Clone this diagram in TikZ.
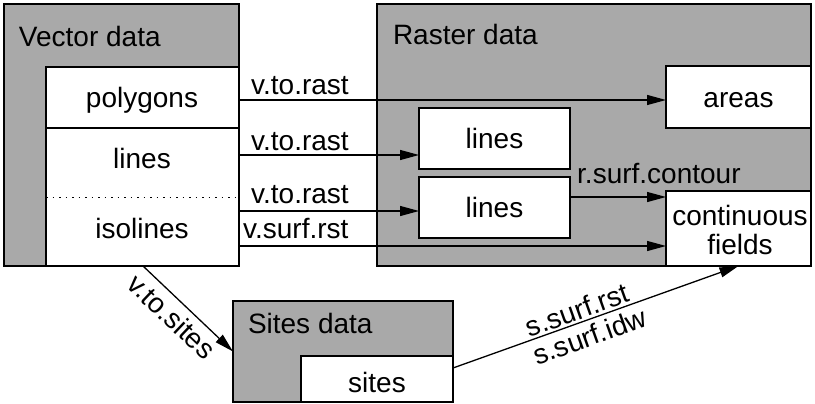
\documentclass[tikz,border=0pt]{standalone}
\usepackage{fontspec}
\setmainfont{Liberation Sans}
\usetikzlibrary{arrows.meta}
\definecolor{panelgray}{HTML}{A9A9A9}
\begin{document}
\begin{tikzpicture}[x=1pt,y=-1pt,
  font=\fontsize{28}{29}\selectfont,
  panel/.style={draw=black, line width=1.4pt, fill=panelgray, inner sep=0pt, outer sep=0pt},
  wbox/.style={draw=black, line width=1.4pt, fill=white, inner sep=0pt, outer sep=0pt},
  txt/.style={inner sep=0pt, outer sep=0pt},
  arr/.style={line width=1.3pt, -{Triangle[length=19pt,width=10pt]}},
  lbl/.style={inner sep=0pt, anchor=base west}]
\useasboundingbox (0,0) rectangle (815,404);
% panels
\node[panel, minimum width=235pt, minimum height=262pt] (vec) at (121.5,135) {};
\node[panel, minimum width=434pt, minimum height=262pt] (ras) at (594,135) {};
\node[panel, minimum width=220pt, minimum height=101pt] (sit) at (343,351.5) {};
\node[txt, anchor=base west] (vect) at (19,47) {Vector data};
\node[txt, anchor=base west] (rast) at (393,45) {Raster data};
\node[txt, anchor=base west] (sitt) at (248,333) {Sites data};
% vector inner
\node[wbox, minimum width=193pt, minimum height=199pt] (vecin) at (142.5,166.5) {};
\node[txt, minimum width=193pt, minimum height=61pt] (poly) at (142.5,97.5) {};
\node[txt, minimum width=193pt, minimum height=69pt] (lns) at (142.5,162.5) {};
\node[txt, minimum width=193pt, minimum height=69pt] (iso) at (142.5,231.5) {};
\draw[line width=1.4pt] (poly.south west) -- (poly.south east);
\draw[line width=0.9pt, dash pattern=on 1.5pt off 5pt] (lns.south west) -- (lns.south east);
\node[txt, anchor=base] (polyt) at (142,108) {polygons};
\node[txt, anchor=base] (lnst) at (142,168) {lines};
\node[txt, anchor=base] (isot) at (142,238) {isolines};
% raster inner
\node[wbox, minimum width=145pt, minimum height=62pt] (areas) at (738.5,97) {};
\node[txt, anchor=base] (areast) at (738.5,108) {areas};
\node[wbox, minimum width=151pt, minimum height=61pt] (rl1) at (494.5,138.5) {};
\node[txt, anchor=base] (rl1t) at (494.5,148) {lines};
\node[wbox, minimum width=151pt, minimum height=61pt] (rl2) at (494.5,207.5) {};
\node[txt, anchor=base] (rl2t) at (494.5,217) {lines};
\node[wbox, minimum width=145pt, minimum height=75pt] (fields) at (738.5,228.5) {};
\node[txt, anchor=base] (fieldst1) at (740,225) {continuous};
\node[txt, anchor=base] (fieldst2) at (740,254) {fields};
% sites inner
\node[wbox, minimum width=152pt, minimum height=46pt] (sitesin) at (377,379) {};
\node[txt, anchor=base] (sitest) at (377,392) {sites};
% connector start points
\coordinate (c1) at (239,100);
\coordinate (c2) at (239,155);
\coordinate (c3) at (239,211);
\coordinate (c4) at (239,246);
\coordinate (c5) at (570,197);
\coordinate (c6) at (143,266);
\coordinate (c7) at (453,368);
% connectors
\draw[arr] (c1) -- (areas.west |- c1);
\draw[arr] (c2) -- (rl1.west |- c2);
\draw[arr] (c3) -- (rl2.west |- c3);
\draw[arr] (c4) -- (fields.west |- c4);
\draw[arr] (c5) -- (fields.west |- c5);
\draw[arr] (c6) -- node[pos=0.45, sloped, below, inner sep=6pt] (vts) {v.to.sites} (sit.west);
\draw[arr] (c7) -- node[pos=0.45, sloped, above, inner sep=2pt] (ssr) {s.surf.rst}
                   node[pos=0.46, sloped, below, inner sep=5pt] (ssi) {s.surf.idw} (fields.south);
% labels
\node[lbl] (l1) at (251,95) {v.to.rast};
\node[lbl] (l2) at (251,150) {v.to.rast};
\node[lbl] (l3) at (251,204) {v.to.rast};
\node[lbl] (l4) at (243,238) {v.surf.rst};
\node[lbl] (l5) at (577,183) {r.surf.contour};
\end{tikzpicture}
\end{document}
